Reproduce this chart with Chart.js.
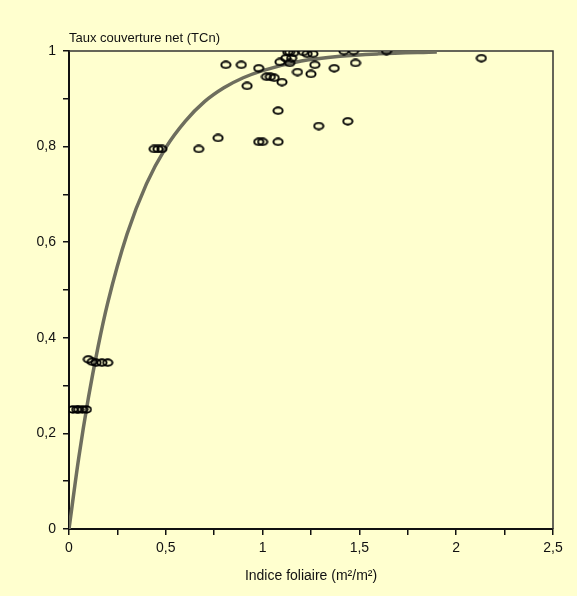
<!DOCTYPE html>
<html>
<head>
<meta charset="utf-8">
<script src="https://cdn.jsdelivr.net/npm/chart.js@4/dist/chart.umd.min.js"></script>
<style>
    html, body { margin: 0; padding: 0; background: #ffffcf; }
    #wrap { position: relative; width: 577px; height: 596px; }
</style>
</head>
<body>
<div id="wrap"><canvas id="chart" width="577" height="596"></canvas></div>
<script>
// measured points: leaf area index vs net cover rate
const laiValues = [0.02, 0.04, 0.05, 0.07, 0.09,
    0.10, 0.12, 0.14, 0.17, 0.20,
    0.44, 0.46, 0.48, 0.67, 0.77, 0.98, 1.00, 1.08, 1.08, 1.29, 1.44,
    0.81, 0.89, 0.98, 0.92, 1.02, 1.04, 1.06, 1.10, 1.09,
    1.13, 1.14, 1.16, 1.12, 1.15, 1.14, 1.18, 1.21, 1.23, 1.26,
    1.27, 1.25, 1.37, 1.42, 1.47, 1.48, 1.64, 2.13];
const tcnValues = [0.25, 0.25, 0.25, 0.25, 0.25,
    0.355, 0.35, 0.348, 0.348, 0.348,
    0.795, 0.795, 0.795, 0.795, 0.818, 0.81, 0.81, 0.81, 0.875, 0.843, 0.853,
    0.971, 0.971, 0.964, 0.927, 0.946, 0.946, 0.944, 0.935, 0.977,
    0.998, 0.998, 0.996, 0.985, 0.985, 0.975, 0.956, 0.998, 0.994, 0.994,
    0.971, 0.952, 0.964, 1.0, 1.0, 0.975, 1.0, 0.985];

// fitted curve
const curveX = [0, 0.05, 0.1, 0.15, 0.2, 0.3, 0.4, 0.5, 0.6, 0.7, 0.8, 0.9, 1.0, 1.2, 1.4, 1.6, 1.9];
const curveY = [0, 0.148, 0.274, 0.381, 0.473, 0.617, 0.722, 0.798, 0.853, 0.894, 0.923, 0.944, 0.959, 0.979, 0.989, 0.994, 0.998];

const yTicks = [0, 0.2, 0.4, 0.6, 0.8, 1];
const xTicks = [0, 0.5, 1, 1.5, 2, 2.5];

const FONT = "'Liberation Sans', sans-serif";

// small open ellipse marker
const marker = document.createElement('canvas');
marker.width = 12;
marker.height = 9;
(function () {
    const c = marker.getContext('2d');
    c.strokeStyle = '#000';
    c.lineWidth = 1.9;
    c.beginPath();
    c.ellipse(6, 4.5, 4.6, 3.2, 0, 0, Math.PI * 2);
    c.stroke();
})();

function frLabel(v) {
    return String(Math.round(v * 10) / 10).replace('.', ',');
}

const frameAndTitle = {
    id: 'frameAndTitle',
    beforeDatasetsDraw(chart) {
        const { ctx, chartArea: a } = chart;
        ctx.save();
        ctx.strokeStyle = '#333';
        ctx.lineWidth = 1.5;
        ctx.beginPath();
        ctx.moveTo(a.left, a.top);
        ctx.lineTo(a.right, a.top);
        ctx.lineTo(a.right, a.bottom);
        ctx.stroke();
        ctx.restore();
    },
    afterDraw(chart) {
        const { ctx, chartArea: a } = chart;
        ctx.save();
        ctx.fillStyle = '#111';
        ctx.font = '13px ' + FONT;
        ctx.textBaseline = 'alphabetic';
        ctx.fillText('Taux couverture net (TCn)', a.left, a.top - 9);
        ctx.restore();
    }
};

new Chart(document.getElementById('chart'), {
    type: 'scatter',
    data: {
        datasets: [
            {
                label: 'Mesures',
                data: laiValues.map((x, i) => ({ x: x, y: tcnValues[i] })),
                pointStyle: marker,
                pointRadius: 5,
                order: 1
            },
            {
                label: 'Ajustement',
                type: 'line',
                data: curveX.map((x, i) => ({ x: x, y: curveY[i] })),
                borderColor: '#6e6e5e',
                borderWidth: 3.5,
                pointRadius: 0,
                cubicInterpolationMode: 'monotone',
                fill: false,
                order: 2
            }
        ]
    },
    options: {
        responsive: false,
        animation: false,
        layout: { padding: { left: 0, right: 24, top: 51, bottom: 0 } },
        plugins: {
            legend: { display: false },
            tooltip: { enabled: false }
        },
        scales: {
            x: {
                type: 'linear',
                min: 0,
                max: 2.5,
                border: { color: '#111', width: 2 },
                grid: { drawOnChartArea: false, color: '#111', lineWidth: 1.5, tickLength: 6 },
                afterBuildTicks(scale) {
                    const t = [];
                    for (let i = 0; i <= 10; i++) t.push({ value: i * 0.25 });
                    scale.ticks = t;
                },
                ticks: {
                    color: '#111',
                    font: { family: FONT, size: 14 },
                    padding: 5,
                    maxRotation: 0,
                    autoSkip: false,
                    callback: v => xTicks.some(t => Math.abs(t - v) < 1e-6) ? frLabel(v) : ''
                },
                title: {
                    display: true,
                    text: 'Indice foliaire (m²/m²)',
                    color: '#111',
                    font: { family: FONT, size: 14 },
                    padding: { top: 2, bottom: 11 }
                },
                afterFit(scale) { scale.height = 67; }
            },
            y: {
                type: 'linear',
                min: 0,
                max: 1,
                border: { color: '#111', width: 2 },
                grid: { drawOnChartArea: false, color: '#111', lineWidth: 1.5, tickLength: 6 },
                afterBuildTicks(scale) {
                    const t = [];
                    for (let i = 0; i <= 10; i++) t.push({ value: i / 10 });
                    scale.ticks = t;
                },
                ticks: {
                    color: '#111',
                    font: { family: FONT, size: 14 },
                    padding: 7,
                    autoSkip: false,
                    callback: v => yTicks.some(t => Math.abs(t - v) < 1e-6) ? frLabel(v) : ''
                },
                afterFit(scale) { scale.width = 69; }
            }
        }
    },
    plugins: [frameAndTitle]
});
</script>
</body>
</html>
